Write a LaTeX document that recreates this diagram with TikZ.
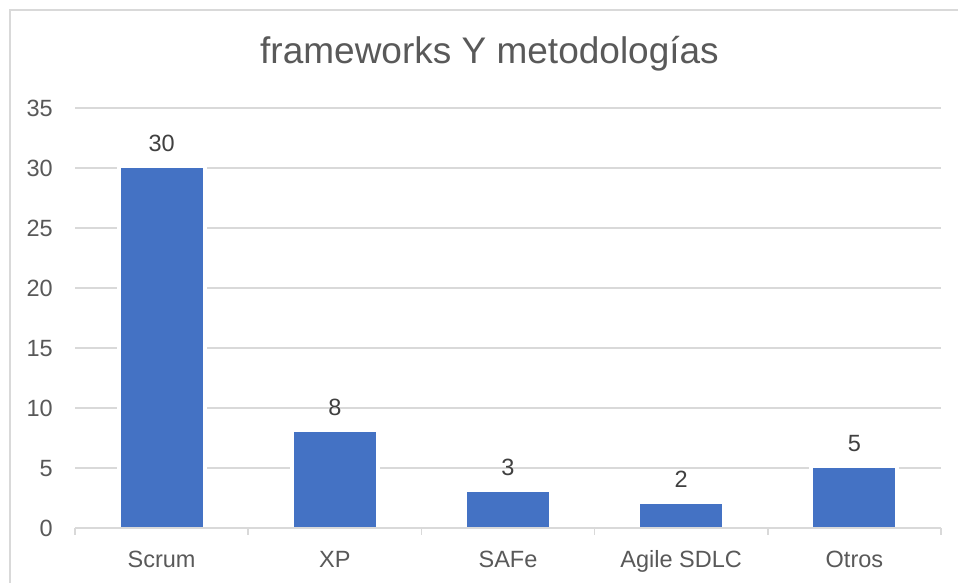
\documentclass[tikz,border=0pt]{standalone}
\usepackage{fontspec}
\setmainfont{Liberation Sans}
\usetikzlibrary{positioning}
\definecolor{barblue}{HTML}{4472C4}
\definecolor{gridgray}{HTML}{D9D9D9}
\definecolor{labelgray}{HTML}{595959}
\definecolor{valgray}{HTML}{404040}

\begin{document}
\begin{tikzpicture}[x=1pt,y=-1pt,
  ticklbl/.style={font=\fontsize{23.5}{28}\selectfont,text=labelgray,anchor=base east,inner sep=0pt},
  catlbl/.style={font=\fontsize{23.5}{28}\selectfont,text=labelgray,anchor=base,inner sep=0pt},
  vallbl/.style={font=\fontsize{23.5}{28}\selectfont,text=valgray,anchor=base,inner sep=0pt},
  gridln/.style={gridgray,line width=1.5pt},
  bar/.style={fill=barblue}]
\useasboundingbox (0,0) rectangle (958,583);
\fill[white] (0,0) rectangle (958,583);
\draw[gridln] (10,583) -- (10,10) -- (958,10);
\node[font=\fontsize{37}{44}\selectfont,text=labelgray,anchor=base,inner sep=0pt] (title) at (489.5,64) {frameworks Y metodologías};
% value axis: 12px per unit, zero at 528
\foreach \v in {5,10,...,35}
  \draw[gridln] (75,528-12*\v) -- (941,528-12*\v);
\foreach \v in {0,5,...,35}
  \node[ticklbl] (tick\v) at (53,528-12*\v+8.5) {\v};
\foreach \name/\v [count=\i] in {Scrum/30,XP/8,SAFe/3,Agile SDLC/2,Otros/5} {
  \pgfmathsetmacro{\cx}{75+173.2*(\i-0.5)}
  \fill[white] (\cx-45,528) rectangle (\cx+45,528-12*\v-4);
  \fill[bar] (\cx-41,527) rectangle (\cx+41,528-12*\v);
  \node[vallbl] (val\i) at (\cx,528-12*\v-17) {\v};
  \node[catlbl] (cat\i) at (\cx,567) {\name};
}
\draw[gridln] (75,528) -- (941,528);
\foreach \i in {0,...,5}
  \draw[gridln] (75+173.2*\i,528) -- ++(0,7);
\end{tikzpicture}
\end{document}
